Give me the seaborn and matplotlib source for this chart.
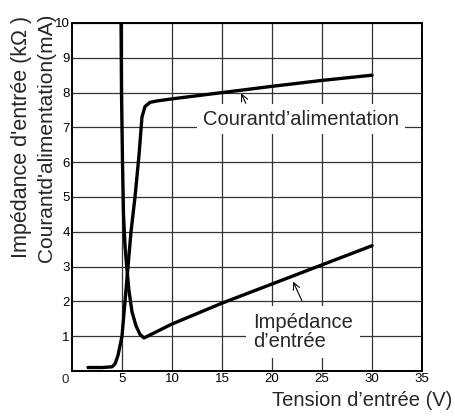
import matplotlib
matplotlib.use('Agg')
import matplotlib.pyplot as plt
import pandas as pd
import seaborn as sns

# Impédance d'entrée (kOhm) vs tension d'entrée (V)
imp_v = [4.9, 4.95, 5.05, 5.15, 5.3, 5.5, 5.7, 6.0, 6.4, 6.8, 7.2, 10, 15, 20, 25, 30]
imp_k = [10.3, 8.0, 6.0, 4.5, 3.6, 2.9, 2.3, 1.7, 1.3, 1.05, 0.95, 1.35, 1.95, 2.5, 3.05, 3.6]

# Courant d'alimentation (mA) vs tension d'entrée (V)
cur_v = [1.6, 3.0, 4.0, 4.3, 4.6, 5.0, 5.3, 5.6, 5.9, 6.3, 6.7, 7.0, 7.3, 7.8, 8.5, 10, 15, 20, 25, 30]
cur_ma = [0.1, 0.1, 0.12, 0.2, 0.45, 1.0, 2.0, 3.0, 4.0, 5.0, 6.2, 7.3, 7.6, 7.72, 7.76, 7.82, 8.0, 8.18, 8.35, 8.5]

x_ticks = [5, 10, 15, 20, 25, 30, 35]
y_ticks = [1, 2, 3, 4, 5, 6, 7, 8, 9, 10]

sns.set_theme(style='white')
plt.rcParams['font.family'] = ['Liberation Sans', 'DejaVu Sans']

df_imp = pd.DataFrame({'v': imp_v, 'y': imp_k})
df_cur = pd.DataFrame({'v': cur_v, 'y': cur_ma})

fig = plt.figure(figsize=(4.55, 4.18), dpi=100)
ax = fig.add_axes([72 / 455, 1 - 371 / 418, 350 / 455, 348 / 418])

ax.set_xlim(0, 35)
ax.set_ylim(0, 10)
ax.set_xticks(x_ticks)
ax.set_yticks(y_ticks)
ax.grid(True, color='#333333', linewidth=0.9)
ax.set_axisbelow(True)
ax.tick_params(length=0, labelsize=9.5, colors='black', pad=1.5)

sns.lineplot(data=df_imp, x='v', y='y', sort=False, ax=ax, color='black',
             linewidth=2.4)
sns.lineplot(data=df_cur, x='v', y='y', sort=False, ax=ax, color='black',
             linewidth=2.4)

for s in ax.spines.values():
    s.set_color('black')
    s.set_linewidth(1.4)

ax.set_xlabel('')
ax.set_ylabel('')
fig.text(65 / 455, 1 - 380 / 418, '0', fontsize=9.5, ha='center', va='center')

# labels with white boxes interrupting the grid
ax.text(22.9, 7.24, 'Courantd\u2019alimentation', fontsize=14.5, ha='center', va='center',
        bbox=dict(facecolor='white', edgecolor='none', pad=4), zorder=3)
ax.annotate('', xy=(16.8, 8.05), xytext=(17.5, 7.62),
            arrowprops=dict(arrowstyle='->', color='black', lw=0.8), zorder=4)

ax.text(18.1, 1.12, 'Impédance\nd\u2019entrée', fontsize=14.5, ha='left', va='center',
        linespacing=1.05,
        bbox=dict(facecolor='white', edgecolor='none', pad=5), zorder=3)
ax.annotate('', xy=(22.0, 2.64), xytext=(23.1, 1.95),
            arrowprops=dict(arrowstyle='->', color='black', lw=0.8), zorder=4)

fig.text(22 / 455, 1 - 16 / 418, "Impédance d'entrée (k\u03a9 )", rotation=90,
         fontsize=15.5, ha='center', va='top')
fig.text(47 / 455, 1 - 14 / 418, "Courantd'alimentation(mA)", rotation=90,
         fontsize=15, ha='center', va='top')
fig.text(452 / 455, 1 - 400 / 418, 'Tension d\u2019entrée (V)', fontsize=14.5,
         ha='right', va='center')

fig.savefig('out.png', dpi=100)
